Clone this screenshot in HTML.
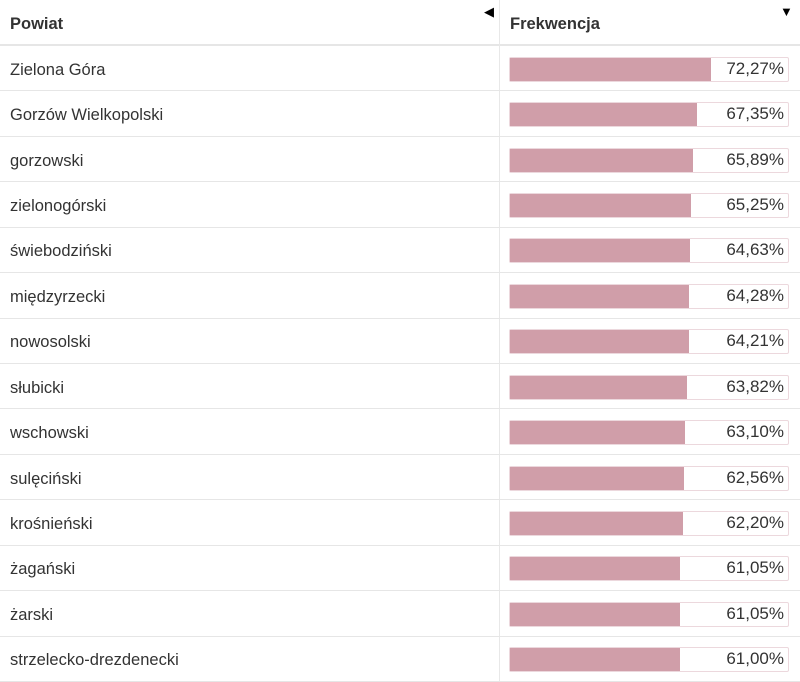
<!DOCTYPE html>
<html><head><meta charset="utf-8">
<style>
body{margin:0;width:800px;height:682px;overflow:hidden;background:#fff;font-family:"Liberation Sans",sans-serif;color:#333;position:relative}
.hdr{position:absolute;top:0;left:0;width:800px;height:46px;border-bottom:2px solid #e6e6e6;box-sizing:border-box}
.h{position:absolute;top:15px;font-weight:bold;font-size:16.5px;color:#333}
.vline{position:absolute;left:499px;top:0;width:1px;height:682px;background:#e8e8e8}
.row{position:absolute;left:0;width:800px;border-bottom:1px solid #e6e6e6;box-sizing:border-box}
.name{position:absolute;left:10px;font-size:16.5px;color:#333}
.bar{position:absolute;left:509px;width:280px;height:25px;border:1px solid #ecd8dd;box-sizing:border-box;border-radius:2px;background:#fff}
.fill{position:absolute;left:0;top:0;height:100%;background:#d09ea9}
.val{position:absolute;right:4px;top:1px;font-size:17px;color:#333}
.arrow{position:absolute;top:4px;font-size:13px;color:#000}
</style></head><body>
<div class="hdr">
<span class="h" style="left:10px">Powiat</span>
<span class="arrow" style="left:484px">◀</span>
<span class="h" style="left:510px">Frekwencja</span>
<span class="arrow" style="left:780px">▼</span>
</div>
<div class="vline"></div>
<div id="rows"></div>
<script>
const names=["Zielona Góra","Gorzów Wielkopolski","gorzowski","zielonogórski","świebodziński","międzyrzecki","nowosolski","słubicki","wschowski","sulęciński","krośnieński","żagański","żarski","strzelecko-drezdenecki"];
const values=[72.27,67.35,65.89,65.25,64.63,64.28,64.21,63.82,63.10,62.56,62.20,61.05,61.05,61.00];
const top0=46,rh=45.43,barW=278;
const c=document.getElementById('rows');
names.forEach((n,i)=>{
  const r=document.createElement('div');r.className='row';
  
  
  r.style.top=(top0+i*rh)+'px';r.style.height=rh+'px';
  const nm=document.createElement('span');nm.className='name';nm.textContent=n;
  
  
  nm.style.top=(rh/2-8)+'px';r.appendChild(nm);
  const b=document.createElement('div');b.className='bar';
  
  
  b.style.top=(rh/2-12)+'px';
  const f=document.createElement('div');f.className='fill';
  
  
  f.style.width=(values[i]/100*barW)+'px';b.appendChild(f);
  const v=document.createElement('span');v.className='val';
  
  
  v.textContent=values[i].toFixed(2).replace('.',',')+'%';b.appendChild(v);
  r.appendChild(b);c.appendChild(r);
});
</script>
</body></html>
